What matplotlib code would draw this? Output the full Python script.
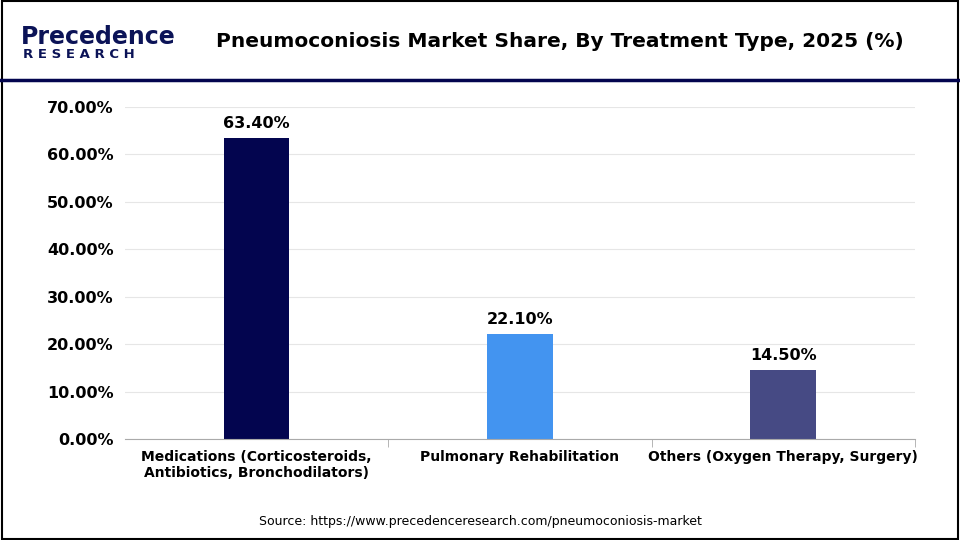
import matplotlib
matplotlib.use("Agg")
import matplotlib.pyplot as plt
from matplotlib.patches import Rectangle
from matplotlib.lines import Line2D

categories = ["Medications (Corticosteroids,\nAntibiotics, Bronchodilators)", "Pulmonary Rehabilitation", "Others (Oxygen Therapy, Surgery)"]
values = [63.40, 22.10, 14.50]
colors = ["#03054f", "#4394f0", "#464a84"]
yticks = [0, 10, 20, 30, 40, 50, 60, 70]

fig = plt.figure(figsize=(9.6, 5.4), dpi=100)
fig.patch.set_facecolor("white")
fig.add_artist(Rectangle((0.002, 0.002), 0.996, 0.996, transform=fig.transFigure, fill=False, edgecolor="black", lw=1.5))
fig.add_artist(Line2D([0, 1], [1 - 80/540]*2, transform=fig.transFigure, color="#03054f", lw=2.5))

fig.text(0.022, 1 - 37/540, "Precedence", fontsize=17, color="#0b1357", fontweight="bold", va="center")
fig.text(0.024, 1 - 55/540, "R E S E A R C H", fontsize=9.5, color="#0b1357", fontweight="bold", va="center")
fig.text(0.583, 1 - 42/540, "Pneumoconiosis Market Share, By Treatment Type, 2025 (%)", fontsize=14.5, fontweight="bold", ha="center", va="center")

ax = fig.add_axes([0.130, 0.187, 0.823, 0.615])
x = range(len(categories))
bars = ax.bar(x, values, width=0.25, color=colors)
for xi, v in zip(x, values):
    ax.text(xi, v + 1.5, f"{v:.2f}%", ha="center", va="bottom", fontsize=11.5, fontweight="bold")
ax.set_xlim(-0.5, 2.5)
ax.set_ylim(0, 70)
ax.set_yticks(yticks)
ax.set_yticklabels([f"{t:.2f}%" for t in yticks], fontsize=11.5, fontweight="bold")
ax.set_xticks(list(x))
ax.set_xticklabels(categories, fontsize=10, fontweight="bold")
ax.tick_params(axis="y", length=0, pad=8)
ax.tick_params(axis="x", length=0, pad=8)
ax.grid(axis="y", color="#e6e6e6", lw=0.8)
ax.set_axisbelow(True)
for s in ["top", "right", "left"]:
    ax.spines[s].set_visible(False)
ax.spines["bottom"].set_color("#aaaaaa")
ax.set_xticks([0.5, 1.5, 2.5], minor=True)
ax.tick_params(axis="x", which="minor", length=6, color="#aaaaaa")

fig.text(0.5, 1 - 521/540, "Source: https://www.precedenceresearch.com/pneumoconiosis-market", fontsize=9, ha="center", va="center")
fig.savefig("out.png", dpi=100)
